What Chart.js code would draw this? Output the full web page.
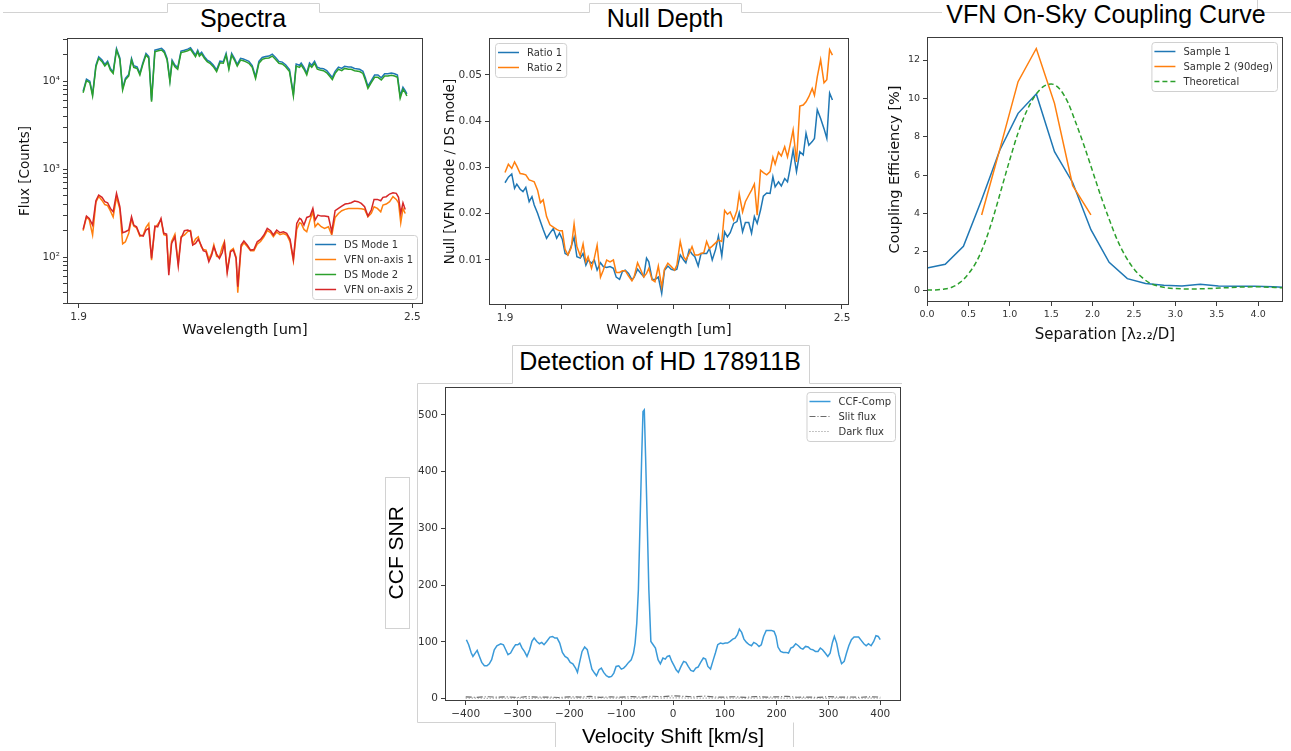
<!DOCTYPE html>
<html>
<head>
<meta charset="utf-8">
<script src="https://cdn.jsdelivr.net/npm/chart.js@4.4.1/dist/chart.umd.min.js"></script>
<style>
  html, body { margin: 0; padding: 0; background: #fff; }
  body { width: 1291px; height: 751px; position: relative; overflow: hidden; }
  canvas { position: absolute; }
  .ttl { position: absolute; font-family: "Liberation Sans", Arial, sans-serif; font-size: 25px; color: #000;
         white-space: nowrap; transform: translate(-50%, -50%); line-height: 1; }
  svg.deco { position: absolute; left: 0; top: 0; }
</style>
</head>
<body>
<svg class="deco" width="1291" height="751">
  <g fill="none" stroke="#d2d2d2" stroke-width="1">
    <polyline points="3,12.5 167.5,12.5 167.5,3.5 319.5,3.5 319.5,12.5 589.5,12.5 589.5,3.5 741.5,3.5 741.5,12.5 942,12.5"/>
    <polyline points="1257.5,0 1257.5,12.5 1291,12.5"/>
    <polyline points="555.5,747 555.5,722.5 417.5,722.5 417.5,383.5 512.5,383.5 512.5,345.5 809.5,345.5 809.5,383.5 902,383.5"/>
    <polyline points="793.5,722.5 793.5,747"/>
    <rect x="385.5" y="477.5" width="24" height="151"/>
  </g>
</svg>

<div class="ttl" style="left:243px;top:18px;">Spectra</div>
<div class="ttl" style="left:665px;top:18px;">Null Depth</div>
<div class="ttl" style="left:1106px;top:14px;">VFN On-Sky Coupling Curve</div>
<div class="ttl" style="left:660px;top:361px;">Detection of HD 178911B</div>

<canvas id="spectra" width="433" height="314" style="left:0px;top:26px;"></canvas>
<canvas id="nulldepth" width="429" height="314" style="left:430px;top:26px;"></canvas>
<canvas id="coupling" width="423" height="321" style="left:870px;top:25px;"></canvas>
<canvas id="detection" width="531" height="375" style="left:380px;top:375px;"></canvas>

<script>
// ---------- Spectra ----------
const specDsWave = [1.908,1.914,1.920,1.925,1.931,1.936,1.942,1.947,1.952,1.957,
  1.962,1.968,1.974,1.979,1.984,1.990,1.995,1.999,2.005,2.010,
  2.015,2.021,2.026,2.031,2.037,2.043,2.049,2.054,2.059,2.064,
  2.068,2.073,2.078,2.084,2.090,2.096,2.101,2.105,2.110,2.114,
  2.117,2.121,2.126,2.131,2.136,2.142,2.148,2.154,2.160,2.165,
  2.170,2.175,2.180,2.185,2.191,2.196,2.200,2.206,2.212,2.218,
  2.224,2.230,2.236,2.242,2.248,2.254,2.260,2.266,2.272,2.279,
  2.286,2.291,2.297,2.300,2.305,2.310,2.315,2.319,2.324,2.329,
  2.334,2.340,2.346,2.352,2.356,2.361,2.367,2.373,2.378,2.385,
  2.390,2.396,2.405,2.411,2.415,2.420,2.426,2.432,2.438,2.444,
  2.450,2.456,2.462,2.468,2.473,2.478,2.483,2.487,2.490];
const specDsMode1 = [7650,10500,9950,7050,15100,18800,17300,15400,16800,13900,
  12700,23400,18300,8250,10700,11900,18000,14900,14500,12200,
  15800,20500,18900,6050,22400,23000,23500,21900,18000,10200,
  17300,15200,14200,21900,22400,23000,23900,21900,19700,22400,
  20000,21200,18900,17300,16600,15200,13400,16800,16600,20600,
  14200,20600,18100,15500,18100,17800,17400,16700,15000,11200,
  16700,18500,19000,19200,20200,18500,16700,16400,15300,13500,
  7100,15600,15100,16000,14300,12300,16000,15100,16800,14300,
  14000,13800,13100,11800,11000,12900,14400,13900,14700,14400,
  14400,13900,13600,12900,11000,8750,10100,11700,11700,10900,
  12100,12100,12300,12100,11700,6750,8500,7800,7150];
const specDsMode2 = [7370,10090,9580,6760,14550,18100,16600,14800,16100,13300,
  12200,22500,17600,7910,10300,11400,17300,14300,13900,11700,
  15200,19700,18100,5820,21500,22100,22500,21000,17300,9830,
  16600,14550,13600,21000,21500,22100,22900,21000,18900,21500,
  19200,20300,18100,16600,15900,14550,12800,16100,15900,19700,
  13600,19700,17300,14800,17300,17000,16600,15900,14300,10700,
  15900,17600,18100,18300,19200,17600,15900,15600,14550,12800,
  6760,14800,14300,15200,13600,11700,15200,14300,15900,13600,
  13300,13100,12400,11200,10400,12200,13600,13100,13900,13600,
  13600,13100,12800,12200,10400,8260,9570,11000,11000,10300,
  11400,11400,11600,11400,11000,6360,8040,7370,6760];
const specVfnWave = [1.908,1.914,1.919,1.925,1.931,1.936,1.942,1.947,1.952,1.957,
  1.962,1.968,1.974,1.979,1.984,1.990,1.995,1.999,2.004,2.010,
  2.016,2.021,2.026,2.031,2.037,2.042,2.048,2.053,2.058,2.062,
  2.067,2.073,2.079,2.084,2.090,2.096,2.101,2.105,2.110,2.115,
  2.120,2.124,2.129,2.134,2.139,2.143,2.148,2.153,2.158,2.162,
  2.167,2.173,2.178,2.183,2.186,2.192,2.197,2.203,2.209,2.215,
  2.221,2.227,2.233,2.239,2.245,2.250,2.256,2.262,2.268,2.274,
  2.280,2.286,2.292,2.297,2.300,2.305,2.310,2.316,2.321,2.325,
  2.330,2.336,2.342,2.349,2.355,2.361,2.367,2.373,2.379,2.385,
  2.390,2.396,2.402,2.408,2.414,2.420,2.426,2.431,2.437,2.443,
  2.447,2.453,2.459,2.465,2.471,2.475,2.479,2.483,2.487];
const specVfnAxis1 = [200,285,265,178,420,490,440,395,385,335,
  285,480,350,141,149,186,270,225,215,172,
  178,218,241,92,215,235,265,180,176,70,
  150,182,85,170,178,195,200,140,160,170,
  132,122,120,95,110,138,102,100,130,150,
  70,118,125,100,39.4,130,145,132,118,118,
  140,150,170,200,190,170,192,180,185,178,
  150,90,206,245,241,206,194,263,327,221,
  241,221,212,221,178,282,313,336,348,357,
  357,357,357,354,348,287,313,373,357,327,
  390,400,426,485,452,414,245,357,313];
const specVfnAxis2 = [206,292,275,231,436,507,477,426,414,357,
  327,529,373,189,194,203,287,231,221,178,
  173,203,212,96.6,225,221,275,186,182,62.4,
  143,170,79.1,163,199,203,196,137,143,159,
  137,118,115,88.5,105,131,108,96.6,112,143,
  66.4,115,120,96.6,46,137,152,137,120,122,
  149,159,178,212,199,178,203,189,194,186,
  159,94,241,275,268,231,282,292,357,263,
  300,292,292,287,194,336,357,380,400,407,
  414,433,426,407,373,292,342,452,452,436,
  477,485,520,538,529,477,313,414,348];
const specXTicks = [1.9, 2.5];
const specYTicks = [30,40,50,60,70,80,90,100,200,300,400,500,600,700,800,900,
  1000,2000,3000,4000,5000,6000,7000,8000,9000,10000,20000,30000];

// ---------- Null depth ----------
const nullWave = [1.900,1.906,1.912,1.917,1.921,1.927,1.932,1.937,1.943,1.948,
  1.952,1.958,1.963,1.968,1.974,1.980,1.986,1.992,1.997,2.002,
  2.007,2.012,2.018,2.023,2.028,2.034,2.039,2.044,2.048,2.054,
  2.059,2.064,2.070,2.075,2.081,2.087,2.093,2.098,2.104,2.109,
  2.114,2.120,2.126,2.130,2.136,2.142,2.147,2.152,2.156,2.162,
  2.167,2.173,2.179,2.184,2.190,2.196,2.202,
  2.206,2.212,2.218,2.222,2.228,2.233,2.238,2.244,2.249,2.254,
  2.259,2.264,2.269,2.275,2.280,2.286,2.291,2.296,2.301,2.307,
  2.313,2.317,2.323,2.328,2.334,2.339,2.344,2.349,2.355,2.360,
  2.366,2.372,2.377,2.381,2.387,2.392,2.398,2.403,2.407,2.413,
  2.419,2.425,2.431,2.436,2.441,2.447,2.451,2.456,2.462,2.468,
  2.473,2.478,2.483];
const nullRatio1 = [0.0267,0.0279,0.0286,0.0255,0.0264,0.0253,0.0248,0.0257,0.0226,0.0237,
  0.0219,0.0201,0.0183,0.0166,0.0147,0.0158,0.0168,0.0147,0.0158,0.0145,
  0.0114,0.0111,0.0130,0.0149,0.0107,0.0104,0.0114,0.0089,0.0100,0.0093,
  0.0100,0.0078,0.0094,0.0086,0.0084,0.0086,0.0082,0.0063,0.0058,0.0075,
  0.0078,0.0071,0.0057,0.0063,0.0080,0.0071,0.0064,0.0104,0.0096,0.0058,
  0.0058,0.0063,0.0028,0.0078,0.0087,0.0080,0.0078,
  0.0080,0.0111,0.0100,0.0094,0.0122,0.0113,0.0107,0.0087,0.0114,0.0114,
  0.0114,0.0125,0.0100,0.0123,0.0152,0.0109,0.0161,0.0150,0.0159,0.0179,
  0.0183,0.0202,0.0161,0.0181,0.0181,0.0158,0.0194,0.0179,0.0208,0.0238,
  0.0245,0.0244,0.0280,0.0258,0.0269,0.0260,0.0276,0.0269,0.0294,0.0338,
  0.0291,0.0334,0.0327,0.0374,0.0348,0.0356,0.0363,0.0425,0.0406,0.0384,
  0.0363,0.0461,0.0446];
const nullRatio2 = [0.0289,0.0307,0.0298,0.0312,0.0303,0.0287,0.0286,0.0284,0.0273,0.0271,
  0.0269,0.0251,0.0224,0.0230,0.0194,0.0176,0.0171,0.0166,0.0163,0.0163,
  0.0123,0.0111,0.0127,0.0178,0.0129,0.0109,0.0135,0.0096,0.0107,0.0082,
  0.0104,0.0132,0.0063,0.0078,0.0100,0.0096,0.0100,0.0073,0.0073,0.0077,
  0.0077,0.0065,0.0055,0.0064,0.0094,0.0078,0.0063,0.0071,0.0082,0.0057,
  0.0053,0.0087,0.0042,0.0080,0.0093,0.0086,0.0078,
  0.0089,0.0140,0.0107,0.0100,0.0114,0.0129,0.0111,0.0111,0.0114,0.0116,
  0.0140,0.0125,0.0130,0.0137,0.0143,0.0140,0.0207,0.0199,0.0204,0.0186,
  0.0207,0.0243,0.0204,0.0226,0.0240,0.0251,0.0264,0.0197,0.0294,0.0289,
  0.0284,0.0291,0.0322,0.0307,0.0333,0.0325,0.0345,0.0323,0.0345,0.0381,
  0.0312,0.0433,0.0435,0.0442,0.0453,0.0471,0.0456,0.0496,0.0533,0.0483,
  0.0490,0.0555,0.0543];
const nullXTicks = [1.9, 2.0, 2.1, 2.2, 2.3, 2.4, 2.5];
const nullYTicks = [0.01, 0.02, 0.03, 0.04, 0.05];

// ---------- Coupling curve ----------
const vfnSep1 = [0.00,0.22,0.44,0.66,0.88,1.10,1.32,1.54,1.76,1.98,2.20,2.42,2.64,2.86,3.08,3.30,3.52,3.74,3.96,4.18,4.40];
const vfnSample1 = [1.15,1.35,2.28,4.71,7.31,9.22,10.23,7.22,5.6,3.15,1.45,0.6,0.35,0.25,0.22,0.3,0.22,0.2,0.2,0.18,0.12];
const vfnSep2 = [0.66,0.88,1.10,1.32,1.54,1.76,1.98];
const vfnSample2 = [3.92,7.35,10.87,12.6,9.74,5.45,3.92];
const vfnSepTheory = [0.0,0.1,0.2,0.3,0.4,0.5,0.6,0.7,0.8,0.9,1.0,1.1,1.2,1.3,1.4,1.5,1.6,1.7,1.8,1.9,
  2.0,2.1,2.2,2.3,2.4,2.5,2.6,2.7,2.8,2.9,3.0,3.2,3.4,3.6,3.8,4.0,4.2,4.3];
const vfnTheory = [0.0,0.01,0.05,0.15,0.4,0.85,1.5,2.5,3.8,5.3,6.8,8.2,9.3,10.1,10.6,10.75,10.5,9.8,8.7,7.5,
  6.2,4.9,3.7,2.6,1.75,1.1,0.65,0.35,0.2,0.12,0.08,0.06,0.08,0.12,0.16,0.17,0.14,0.12];
const vfnXTicks = [0.0,0.5,1.0,1.5,2.0,2.5,3.0,3.5,4.0];
const vfnYTicks = [0,2,4,6,8,10,12];

// ---------- Detection ----------
const ccfVel = [-398.7,-394.3,-389.3,-386.1,-381.7,-377.9,-373.5,-369.1,-364.0,-359.0,
  -354.5,-350.0,-344.9,-339.9,-332.4,-327.3,-322.8,-318.4,-313.4,-308.3,
  -303.9,-299.5,-295.7,-291.2,-286.8,-281.8,-276.7,-272.3,-267.9,-262.8,
  -257.8,-253.3,-248.9,-243.8,-237.5,-232.4,-228.0,-223.6,-218.6,-213.5,
  -208.4,-203.4,-198.3,-193.3,-188.1,-184.4,-180.6,-175.5,-170.5,-165.4,
  -161.6,-156.5,-151.5,-147.7,-142.7,-138.3,-133.8,-128.7,-123.6,-118.6,
  -114.2,-109.8,-104.7,-99.7,-95.3,-90.8,-85.7,-80.6,-76.2,-73.1,
  -69.9,-66.8,-63.6,-60.4,-57.9,-55.4,-52.9,-49.7,-46.6,-42.7,
  -38.3,-33.9,-28.8,-24.4,-19.4,-14.9,-11.1,-6.7,-2.3,2.8,
  6.0,10.4,15.5,20.5,25.0,29.4,34.4,39.5,43.9,48.4,
  53.4,58.5,62.9,67.3,72.4,77.4,81.8,86.3,91.4,96.4,
  100.8,105.3,110.3,115.4,119.8,124.3,128.1,132.5,136.9,141.9,
  147.0,151.5,155.9,160.9,166.0,170.4,174.8,179.9,184.9,190.0,
  195.1,198.9,202.6,207.7,212.8,217.8,222.9,227.3,231.8,236.8,
  241.9,246.3,250.7,255.8,260.8,265.2,269.7,274.8,279.8,284.3,
  288.6,293.7,298.7,303.2,307.7,311.4,315.8,320.2,325.3,330.4,
  334.9,339.3,344.3,349.4,353.8,358.2,363.2,368.3,372.8,377.2,
  382.3,387.3,391.7,396.1,399.9];
const ccfComp = [103.9,95.1,80.4,74.5,80.4,85.1,74.5,64.0,58.1,58.1,
  61.6,68.7,86.3,93.3,96.8,95.1,86.3,77.5,80.4,89.2,
  95.1,95.1,98.0,89.2,83.3,74.5,86.3,100.9,106.8,100.9,
  96.8,99.2,95.1,100.9,108.6,109.7,106.8,106.8,98.0,81.6,
  74.5,71.6,64.0,61.6,54.0,46.4,62.8,83.3,91.0,86.3,
  71.6,52.2,45.2,40.5,51.1,54.0,46.4,40.5,38.1,39.3,
  45.2,56.9,58.1,52.2,54.0,58.1,64.0,68.7,80.4,98.0,
  133.2,191.9,309.3,426.6,505.9,508.8,426.6,309.3,191.9,100.9,
  95.1,89.2,68.7,61.6,71.6,69.8,74.5,75.7,65.7,56.9,
  51.1,46.4,56.9,65.7,64.0,56.9,49.9,48.1,54.0,55.8,
  64.0,71.6,69.8,56.9,52.2,67.5,80.4,95.1,98.0,96.8,
  98.0,98.0,100.9,105.0,106.8,112.7,122.7,116.8,105.0,99.2,
  95.1,93.3,99.2,96.8,92.1,95.1,109.7,120.3,120.3,120.3,
  118.5,109.7,91.0,83.3,81.6,81.6,80.4,89.2,91.0,96.8,
  93.3,89.2,87.4,92.1,91.0,87.4,86.3,83.3,83.3,89.2,
  86.3,80.4,74.5,80.4,99.2,109.7,98.0,77.5,61.6,65.7,
  80.4,93.3,103.9,108.6,108.6,108.6,102.7,96.8,93.3,96.8,
  93.3,100.9,110.9,109.7,103.9];
const fluxVel = [-400,-380,-360,-340,-320,-300,-280,-260,-240,-220,-200,-180,-160,-140,-120,-100,-80,-60,-40,-20,
  0,20,40,60,80,100,120,140,160,180,200,220,240,260,280,300,320,340,360,380,400];
const slitFlux = [3.1,2.4,3.6,2.8,3.3,2.1,3.9,2.6,3.0,2.2,3.4,2.9,4.1,2.5,3.2,2.7,3.8,3.0,4.4,3.6,
  5.0,4.2,3.3,4.6,3.1,2.8,3.5,2.4,3.9,2.9,3.2,4.3,2.6,3.0,2.3,3.7,2.8,3.1,2.5,3.4,2.9];
const darkFlux = [0.9,1.2,0.7,1.1,0.8,1.3,0.6,1.0,1.2,0.8,0.9,1.1,0.7,1.4,0.9,1.0,0.8,1.2,1.5,1.1,
  1.6,1.3,0.9,1.2,1.0,0.8,1.1,0.7,1.3,0.9,1.0,1.2,0.8,1.1,0.9,0.7,1.2,1.0,0.8,1.1,0.9];
const ccfXTicks = [-400,-300,-200,-100,0,100,200,300,400];
const ccfYTicks = [0,100,200,300,400,500];

// ---------- shared setup ----------
Chart.defaults.font.family = 'DejaVu Sans';
Chart.defaults.color = '#333';
Chart.defaults.animation = false;
Chart.defaults.elements.point.radius = 0;
Chart.defaults.elements.line.borderWidth = 1.5;
Chart.defaults.elements.line.tension = 0;
Chart.defaults.plugins.legend.display = false;
Chart.defaults.plugins.tooltip.enabled = false;

function pts(xs, ys) { return xs.map((x, i) => ({ x: x, y: ys[i] })); }

// box around the plot area, like matplotlib spines
const frame = {
  id: 'frame',
  afterDatasetsDraw(chart) {
    const { ctx, chartArea: a } = chart;
    ctx.save();
    ctx.strokeStyle = '#3c3c3c';
    ctx.lineWidth = 1;
    ctx.strokeRect(Math.round(a.left) + 0.5, Math.round(a.top) + 0.5,
      Math.round(a.right - a.left) - 1, Math.round(a.bottom - a.top) - 1);
    ctx.restore();
  }
};

// legend drawn inside the axes
const mplLegend = {
  id: 'mplLegend',
  afterDraw(chart, args, opts) {
    const { ctx, chartArea: a } = chart;
    const items = chart.data.datasets;
    const rowH = 15, pad = 2, hl = 21, gap = 8;
    ctx.save();
    ctx.font = (opts.size || 10) + 'px "DejaVu Sans"';
    const textW = Math.max(...items.map(d => ctx.measureText(d.label).width));
    const w = 3 + hl + gap + textW + 4;
    const h = items.length * rowH + 2 * pad;
    const x = opts.loc.indexOf('right') >= 0 ? a.right - 6 - w : a.left + 6;
    const y = opts.loc.indexOf('lower') >= 0 ? a.bottom - 5 - h : a.top + 5;
    ctx.beginPath();
    ctx.roundRect(x + 0.5, y + 0.5, w, h, 3);
    ctx.fillStyle = 'rgba(255,255,255,0.85)';
    ctx.fill();
    ctx.strokeStyle = '#d0d0d0';
    ctx.lineWidth = 1;
    ctx.stroke();
    items.forEach((d, i) => {
      const cy = y + pad + rowH * (i + 0.5);
      ctx.beginPath();
      ctx.strokeStyle = d.borderColor;
      ctx.lineWidth = d.borderWidth || 1.5;
      ctx.setLineDash(d.borderDash || []);
      ctx.moveTo(x + 3, cy);
      ctx.lineTo(x + 3 + hl, cy);
      ctx.stroke();
      ctx.setLineDash([]);
      ctx.fillStyle = '#333';
      ctx.textBaseline = 'middle';
      ctx.textAlign = 'left';
      ctx.fillText(d.label, x + 3 + hl + gap, cy + 0.5);
    });
    ctx.restore();
  }
};

function axis(o) {
  return {
    type: o.type || 'linear',
    min: o.min,
    max: o.max,
    afterFit: o.horiz ? (s => { s.height = o.size; }) : (s => { s.width = o.size; }),
    afterBuildTicks: s => { s.ticks = o.ticks.map(v => ({ value: v })); },
    grid: { display: true, drawOnChartArea: false, drawTicks: true, tickLength: 4, tickColor: '#3c3c3c', tickWidth: 1 },
    border: { display: false },
    ticks: { autoSkip: false, maxRotation: 0, minRotation: 0, padding: 3, color: '#333',
             font: { size: o.tickSize || 10.5 }, callback: o.label },
    title: { display: true, text: o.title, color: o.titleColor || '#111',
             font: o.titleFont || { size: 13.5 }, padding: o.titlePad }
  };
}

const pad = { top: 12, right: 10, bottom: 0, left: 0 };
const same = (a, b) => Math.abs(a - b) < 1e-9;

// ---------- Spectra ----------
const sup = { 100: '10\u00B2', 1000: '10\u00B3', 10000: '10\u2074' };
new Chart(document.getElementById('spectra'), {
  type: 'line',
  data: { datasets: [
    { label: 'DS Mode 1', data: pts(specDsWave, specDsMode1), borderColor: '#1f77b4', order: 4 },
    { label: 'VFN on-axis 1', data: pts(specVfnWave, specVfnAxis1), borderColor: '#ff7f0e', order: 3 },
    { label: 'DS Mode 2', data: pts(specDsWave, specDsMode2), borderColor: '#2ca02c', order: 2 },
    { label: 'VFN on-axis 2', data: pts(specVfnWave, specVfnAxis2), borderColor: '#d62728', order: 1 }
  ]},
  options: {
    responsive: false, devicePixelRatio: 1, layout: { padding: pad },
    scales: {
      x: axis({ horiz: true, size: 36, min: 1.879, max: 2.519, ticks: specXTicks,
                label: v => v.toFixed(1), title: 'Wavelength [um]', titleFont: { size: 14.5 },
                titlePad: { top: 0, bottom: 1.5 } }),
      y: axis({ type: 'logarithmic', size: 67, min: 29.3, max: 30800, ticks: specYTicks,
                label: v => sup[v] || '', title: 'Flux [Counts]', titlePad: { top: 17, bottom: 0 } })
    },
    plugins: { mplLegend: { loc: 'lower right' } }
  },
  plugins: [frame, mplLegend]
});

// ---------- Null Depth ----------
new Chart(document.getElementById('nulldepth'), {
  type: 'line',
  data: { datasets: [
    { label: 'Ratio 1', data: pts(nullWave, nullRatio1), borderColor: '#1f77b4', order: 2 },
    { label: 'Ratio 2', data: pts(nullWave, nullRatio2), borderColor: '#ff7f0e', order: 1 }
  ]},
  options: {
    responsive: false, devicePixelRatio: 1, layout: { padding: pad },
    scales: {
      x: axis({ horiz: true, size: 35, min: 1.8715, max: 2.5125, ticks: nullXTicks,
                label: v => (same(v, 1.9) || same(v, 2.5)) ? v.toFixed(1) : '',
                title: 'Wavelength [um]', titleFont: { size: 14.5 }, titlePad: { top: 0, bottom: 1.5 } }),
      y: axis({ size: 59, min: 0.00027, max: 0.058, ticks: nullYTicks,
                label: v => v.toFixed(2), title: 'Null [VFN mode / DS mode]', titlePad: { top: 12, bottom: 0 } })
    },
    plugins: { mplLegend: { loc: 'upper left' } }
  },
  plugins: [frame, mplLegend]
});

// ---------- VFN On-Sky Coupling Curve ----------
new Chart(document.getElementById('coupling'), {
  type: 'line',
  data: { datasets: [
    { label: 'Sample 1', data: pts(vfnSep1, vfnSample1), borderColor: '#1f77b4', order: 3 },
    { label: 'Sample 2 (90deg)', data: pts(vfnSep2, vfnSample2), borderColor: '#ff7f0e', order: 2 },
    { label: 'Theoretical', data: pts(vfnSepTheory, vfnTheory), borderColor: '#2ca02c',
      borderDash: [5, 3], cubicInterpolationMode: 'monotone', order: 1 }
  ]},
  options: {
    responsive: false, devicePixelRatio: 1, layout: { padding: pad },
    scales: {
      x: axis({ horiz: true, size: 44, min: 0, max: 4.3, ticks: vfnXTicks, tickSize: 9.5,
                label: v => v.toFixed(1), title: 'Separation [\u03BB\u2082.\u2082/D]',
                titleFont: { size: 15 }, titlePad: { top: 0, bottom: 2 } }),
      y: axis({ size: 57, min: -0.62, max: 13.2, ticks: vfnYTicks, tickSize: 9.5,
                label: v => String(v), title: 'Coupling Efficiency [%]',
                titleFont: { size: 14.5 }, titlePad: { top: 16.3, bottom: 0 } })
    },
    plugins: { mplLegend: { loc: 'upper right' } }
  },
  plugins: [frame, mplLegend]
});

// ---------- Detection of HD 178911B ----------
const slideFont = { family: 'Liberation Sans', size: 21 };
new Chart(document.getElementById('detection'), {
  type: 'line',
  data: { datasets: [
    { label: 'CCF-Comp', data: pts(ccfVel, ccfComp), borderColor: '#3a9ad9', order: 3 },
    { label: 'Slit flux', data: pts(fluxVel, slitFlux), borderColor: '#6a6a6a', borderWidth: 1.2,
      borderDash: [6, 2, 1, 2], order: 2 },
    { label: 'Dark flux', data: pts(fluxVel, darkFlux), borderColor: '#8a8a8a', borderWidth: 1.2,
      borderDash: [1, 2], order: 1 }
  ]},
  options: {
    responsive: false, devicePixelRatio: 1, layout: { padding: pad },
    scales: {
      x: axis({ horiz: true, size: 49, min: -440, max: 440, ticks: ccfXTicks,
                label: v => v < 0 ? '\u2212' + Math.abs(v) : String(v),
                title: 'Velocity Shift [km/s]', titleColor: '#000', titleFont: slideFont,
                titlePad: { top: 0, bottom: 0.4 } }),
      y: axis({ size: 65, min: -4, max: 549, ticks: ccfYTicks,
                label: v => String(v), title: 'CCF SNR   ', titleColor: '#000', titleFont: slideFont,
                titlePad: { top: 4.4, bottom: 0 } })
    },
    plugins: { mplLegend: { loc: 'upper right' } }
  },
  plugins: [frame, mplLegend]
});
</script>
</body>
</html>
